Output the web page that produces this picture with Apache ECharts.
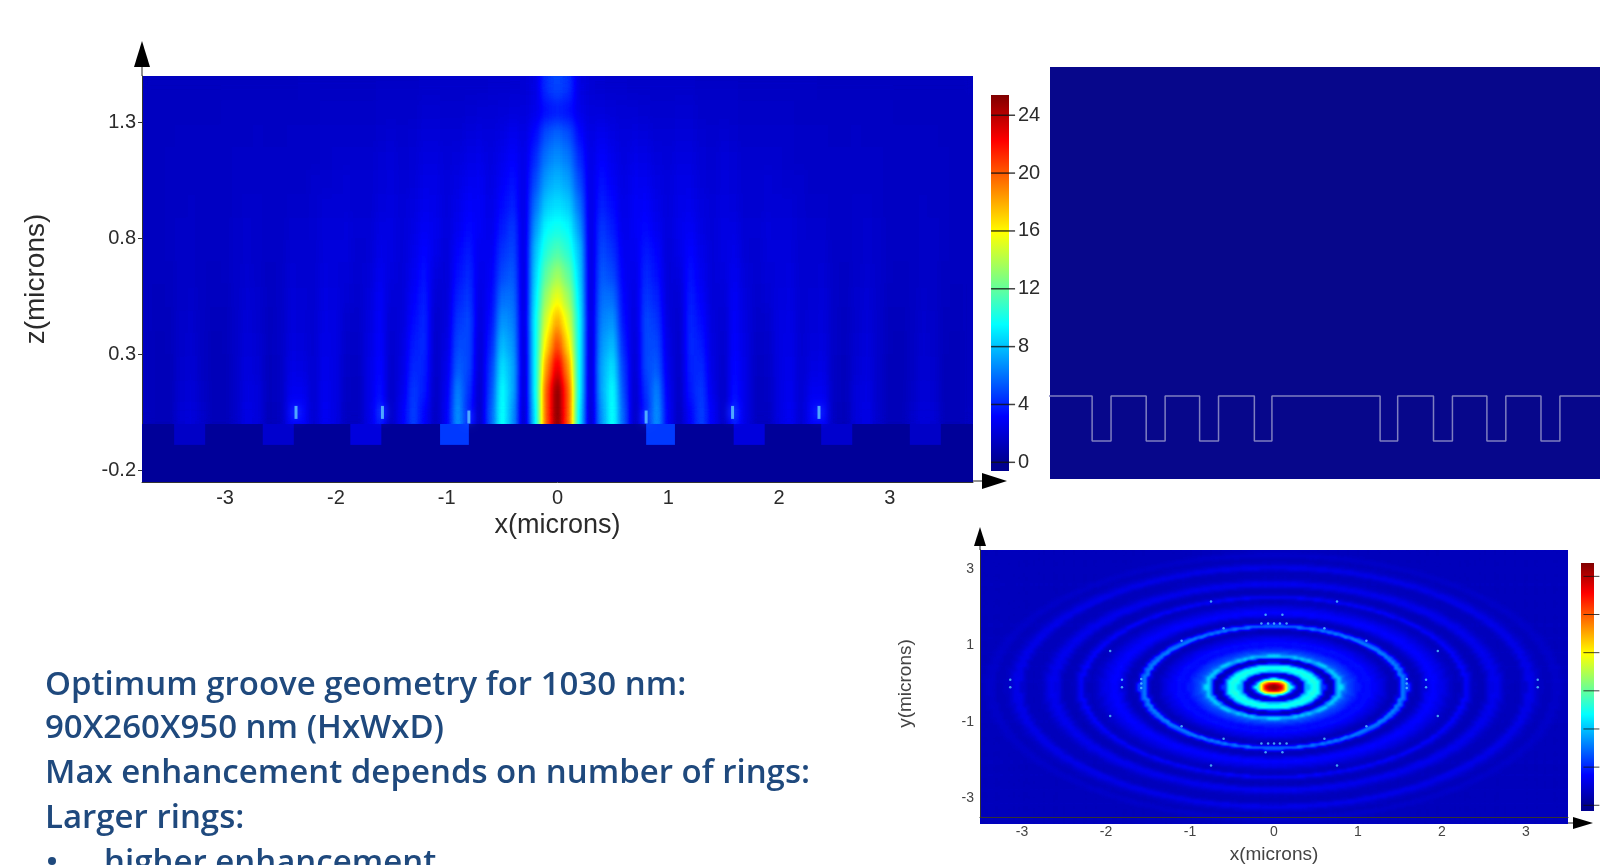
<!DOCTYPE html>
<html><head><meta charset="utf-8">
<style>
html,body{margin:0;padding:0;background:#fff;overflow:hidden}
#page{position:relative;width:1600px;height:865px;overflow:hidden}
.heat,#main{position:absolute}
#heatBeam{left:142px;top:76px;width:831px;height:349px;filter:url(#jetBeam)}
#heatRings{left:980px;top:550px;width:588px;height:274px;filter:url(#jetRings)}
#main{left:0;top:0;width:1600px;height:865px}
</style>
<script src="https://cdn.jsdelivr.net/npm/echarts@6/dist/echarts.min.js"></script>
</head><body>
<div id="page">
<svg width="0" height="0" style="position:absolute">
<filter id="jetBeam" x="0" y="0" width="1" height="1" color-interpolation-filters="sRGB"><feGaussianBlur stdDeviation="3.5 8"/><feComponentTransfer><feFuncR type="table" class="r"/><feFuncG type="table" class="g"/><feFuncB type="table" class="b"/><feFuncA type="table" tableValues="1 1"/></feComponentTransfer></filter>
<filter id="jetRings" x="0" y="0" width="1" height="1" color-interpolation-filters="sRGB"><feGaussianBlur stdDeviation="1.8 1"/><feComponentTransfer><feFuncR type="table" class="r"/><feFuncG type="table" class="g"/><feFuncB type="table" class="b"/><feFuncA type="table" tableValues="1 1"/></feComponentTransfer></filter>
</svg>
<div id="heatBeam" class="heat"></div>
<div id="heatRings" class="heat"></div>
<div id="main"></div>
</div>
<script>
// --- colour scale (jet, 0..25.4) ---
const jetR = [0,0,0,0,.5,1,1,1,.5];
const jetG = [0,0,.5,1,1,1,.5,0,0];
const jetB = [.56,1,1,1,.5,0,0,0,0];
const scaleMax = 25.4;

// --- tick labels ---
const beamXTicks = [-3,-2,-1,0,1,2,3];
const beamZTicks = [-0.2,0.3,0.8,1.3];
const barTicks = [0,4,8,12,16,20,24];
const ringXTicks = [-3,-2,-1,0,1,2,3];
const ringYTicks = [-3,-1,1,3];

// --- cross-section field: enhancement read at x = 0, 0.1 ... 3.7 microns (right half, picture is mirror-symmetric) ---
const beamColumnsX = [0,.1,.2,.3,.4,.5,.6,.7,.8,.9,1,1.1,1.2,1.3,1.4,1.5,1.6,1.7,1.8,1.9,2,2.1,2.2,2.3,2.4,2.5,2.6,2.7,2.8,2.9,3,3.1,3.2,3.3,3.4,3.5,3.6,3.7];
const z005 = [26,20,9,1.5,7,10,5.5,1.5,4,7,3,1.4,3.2,4.8,3,1.6,4,2.5,1.4,1.4,2.4,2.9,1.9,3.2,3.2,1.4,1.2,2.2,2.5,1.7,1.2,1.2,1.7,2.2,2,1.2,1.2,1.4];
const z015 = [25.5,20,9.5,1.6,7.5,9.8,5,1.6,4.5,6.5,2.8,1.5,3.8,4.6,2.6,1.6,3.6,2.5,1.4,1.5,2.4,2.8,1.9,2.8,2.8,1.5,1.3,2.2,2.4,1.7,1.2,1.2,1.6,2.1,1.9,1.2,1.2,1.4];
const z025 = [23,18.5,9.5,1.7,7.5,9,4.6,1.8,5,5.5,2.6,1.6,4,4.2,2.4,1.7,3.4,2.5,1.5,1.6,2.4,2.7,1.9,2.4,2.5,1.5,1.3,2,2.3,1.7,1.2,1.2,1.5,2,1.8,1.2,1.2,1.4];
const z035 = [20.5,16.5,9.5,1.8,7,8,4,2,5,5,2.4,1.7,4.2,3.8,2.3,1.8,3.2,2.4,1.6,1.7,2.4,2.6,1.9,2.2,2.3,1.6,1.4,1.9,2.2,1.7,1.3,1.2,1.5,1.9,1.7,1.3,1.2,1.4];
const z045 = [18,15,9.5,2,6.5,7,3.5,2.2,5,4.5,2.2,1.8,4.1,3.4,2.2,1.9,3.1,2.3,1.7,1.8,2.4,2.5,1.9,2.1,2.2,1.6,1.4,1.8,2.1,1.7,1.3,1.3,1.5,1.8,1.7,1.3,1.3,1.4];
const z055 = [15.5,13.5,9,2,6,6,3.2,2.4,4.6,4,2.1,2,3.9,3.1,2.1,2.1,3,2.2,1.8,2,2.3,2.4,1.9,2,2.1,1.6,1.5,1.8,2,1.7,1.4,1.4,1.5,1.7,1.6,1.4,1.3,1.4];
const z065 = [13.5,12,8.5,2.1,5.5,5,3,2.6,4.2,3.5,2.1,2.3,3.6,2.8,2.1,2.3,2.8,2.1,1.9,2.1,2.2,2.3,1.9,1.9,2,1.6,1.5,1.7,1.9,1.7,1.5,1.4,1.5,1.6,1.6,1.4,1.4,1.4];
const z075 = [11.5,10.5,8,2.2,5,4.4,2.8,2.8,3.8,3.2,2.1,2.6,3.3,2.6,2.1,2.4,2.6,2,1.9,2.2,2.2,2.2,1.9,1.9,1.9,1.6,1.6,1.7,1.8,1.7,1.5,1.5,1.5,1.6,1.6,1.5,1.4,1.4];
const z085 = [10,9.5,7,2.3,4.6,3.8,2.6,3,3.4,2.8,2.2,2.7,3,2.4,2.1,2.4,2.4,2,2,2.2,2.1,2.1,1.9,1.8,1.8,1.6,1.6,1.7,1.8,1.7,1.5,1.5,1.5,1.6,1.6,1.5,1.4,1.4];
const z095 = [8.8,8.3,6,2.4,4,3.4,2.5,3,3.1,2.6,2.2,2.6,2.7,2.3,2.1,2.3,2.2,1.9,1.9,2,2,2,1.8,1.7,1.7,1.6,1.6,1.7,1.7,1.6,1.5,1.5,1.5,1.6,1.5,1.5,1.4,1.4];
const z105 = [7.8,7.2,5,2.5,3.6,3,2.4,2.9,2.8,2.4,2.2,2.5,2.5,2.1,2,2.2,2.1,1.9,1.9,2,1.9,1.8,1.8,1.6,1.6,1.6,1.6,1.6,1.6,1.6,1.5,1.5,1.5,1.5,1.5,1.5,1.4,1.4];
const z115 = [6.8,6.2,4.2,2.5,3.2,2.7,2.3,2.6,2.5,2.2,2.1,2.3,2.3,2,1.9,2.1,2,1.8,1.8,1.8,1.8,1.7,1.6,1.6,1.6,1.6,1.6,1.6,1.6,1.6,1.5,1.5,1.5,1.5,1.5,1.5,1.4,1.4];
const z125 = [5.8,5.2,3.4,2.4,2.8,2.4,2.2,2.3,2.2,2,2,2.1,2.1,1.9,1.8,1.9,1.8,1.7,1.7,1.7,1.7,1.7,1.6,1.6,1.6,1.5,1.5,1.6,1.5,1.5,1.5,1.5,1.5,1.5,1.5,1.4,1.4,1.4];
const z135 = [3.8,3.5,2.6,2.2,2.2,2.1,2,2,1.9,1.8,1.8,1.9,1.9,1.7,1.7,1.7,1.7,1.6,1.6,1.6,1.6,1.6,1.5,1.5,1.5,1.5,1.5,1.5,1.5,1.5,1.5,1.4,1.4,1.4,1.4,1.4,1.4,1.4];
const z145 = [5,4.4,2.4,2,1.9,1.8,1.8,1.7,1.7,1.7,1.7,1.7,1.7,1.6,1.6,1.6,1.6,1.5,1.5,1.5,1.5,1.5,1.5,1.5,1.4,1.4,1.4,1.4,1.4,1.4,1.4,1.4,1.4,1.4,1.4,1.4,1.4,1.4];
const beamRows = [z005,z015,z025,z035,z045,z055,z065,z075,z085,z095,z105,z115,z125,z135,z145];

// --- grooves: edges in microns either side of centre, depth, and field inside each groove ---
const grooveInner = [0.8,1.59,2.38,3.18];
const grooveOuter = [1.06,1.87,2.66,3.46];
const grooveField = [4.6,2.2,1.8,1.6];
const grooveDepth = -0.09;
const sparkX = [0.8,1.58,2.36];
const sparkZ = [0.03,0.05,0.05];

// --- plan view: enhancement read along a radius, r = 0, 0.05, 0.10 ... microns ---
const ringProfile = [30,27,23,17,11,4.5,1.2,2,8,10,10.5,9.5,4.5,1.3,1.2,6,9,6,5,4.6,4,3.4,3.5,3.6,3.2,2.8,2.4,1.9,1.4,1.3,2.4,7,5,1.6,1.3,1.5,2.2,3,3.4,3.2,2.8,2.4,1.9,1.6,1.4,1.8,3.4,2.4,1.5,1.3,1.3,1.8,2.6,2.9,2.5,1.9,1.5,1.4,1.4,1.4,1.9,2.7,2.6,2,1.6,1.4,1.4,1.7,1.8,1.6,1.4,1.4,1.4,1.4,1.4,1.4,1.4,1.4,1.4,1.4,1.4,1.4,1.4,1.4,1.4,1.4,1.4,1.4,1.4,1.4,1.4,1.4,1.4,1.4,1.4,1.4,1.4,1.4,1.4,1.4];
const ringCellStep = 0.04;
const speckX = [0.1,-0.1,0.1,-0.1,1.81,1.81,-1.81,-1.81,3.14,3.14,-3.14,-3.14,-0.15,-0.07,0,0.07,0.15,-0.15,-0.07,0,0.07,0.15,1.58,1.58,1.58,-1.58,-1.58,-1.58,1.1,-1.1,1.1,-1.1,0.6,-0.6,0.6,-0.6,1.95,-1.95,1.95,-1.95,0.75,-0.75,0.75,-0.75];
const speckY = [1.8,1.8,-1.8,-1.8,0.1,-0.1,0.1,-0.1,0.1,-0.1,0.1,-0.1,1.57,1.57,1.57,1.57,1.57,-1.57,-1.57,-1.57,-1.57,-1.57,0,0.12,-0.12,0,0.12,-0.12,1.12,1.12,-1.12,-1.12,1.45,1.45,-1.45,-1.45,0.85,0.85,-0.85,-0.85,2.15,2.15,-2.15,-2.15];

// --- slide text ---
const noteLines = ["Optimum groove geometry for 1030 nm:","90X260X950 nm (HxWxD)","Max enhancement depends on number of rings:","Larger rings:","higher enhancement"];
const noteTop = [686,729,774,819,864];

function jetAt(v){
  const f=Math.max(0,Math.min(1,v/scaleMax))*8, i=Math.min(7,Math.floor(f)), t=f-i;
  const c=a=>Math.round((a[i]+(a[i+1]-a[i])*t)*255);
  return 'rgb('+c(jetR)+','+c(jetG)+','+c(jetB)+')';
}
document.querySelectorAll('.r').forEach(e=>e.setAttribute('tableValues',jetR.join(' ')));
document.querySelectorAll('.g').forEach(e=>e.setAttribute('tableValues',jetG.join(' ')));
document.querySelectorAll('.b').forEach(e=>e.setAttribute('tableValues',jetB.join(' ')));
const barLevels=[25.4,22.225,15.875,9.525,3.175,0];
function heatOption(xs,ys,cells){
  return {animation:false,backgroundColor:'#000',
    grid:{left:0,right:0,top:0,bottom:0},
    xAxis:{type:'category',data:xs,show:false},
    yAxis:{type:'category',data:ys,show:false},
    visualMap:{show:false,min:0,max:scaleMax,inRange:{color:['#000000','#ffffff']}},
    series:[{type:'heatmap',data:cells,progressive:0,emphasis:{disabled:true},itemStyle:{borderWidth:0}}]};
}
const beamXs=[...beamColumnsX.slice(1).reverse().map(v=>-v),...beamColumnsX];
const beamCells=[];
beamRows.forEach((row,j)=>{beamXs.forEach((x,i)=>{beamCells.push([i,j,row[Math.round(Math.abs(x)*10)]]);});});
echarts.init(document.getElementById('heatBeam')).setOption(heatOption(beamXs.map(String),beamRows.map((r,i)=>String(i)),beamCells));
const ringXs=[],ringCells=[];
const ringN=Math.round(3.5/ringCellStep);
for(let i=-ringN;i<ringN;i++)ringXs.push((i+.5)*ringCellStep);
ringXs.forEach((x,i)=>ringXs.forEach((y,j)=>{
  const k=Math.min(ringProfile.length-1,Math.round(Math.hypot(x,y)/0.05));
  ringCells.push([i,j,ringProfile[k]]);
}));
echarts.init(document.getElementById('heatRings')).setOption(heatOption(ringXs.map(String),ringXs.map(String),ringCells));

const labelDark='#2b2b2b', sans='"Liberation Sans",Arial,sans-serif';
const strip=[[-3.75,3.75,-0.25,0,0.3]];
grooveInner.forEach((a,i)=>{
  strip.push([a,grooveOuter[i],grooveDepth,0,grooveField[i]]);
  strip.push([-grooveOuter[i],-a,grooveDepth,0,grooveField[i]]);
});
const profX=[-4.1],profZ=[0];
const edges=[];
for(let i=grooveInner.length-1;i>=0;i--)edges.push([-grooveOuter[i],-grooveInner[i]]);
for(let i=0;i<grooveInner.length;i++)edges.push([grooveInner[i],grooveOuter[i]]);
edges.forEach(([a,b])=>{profX.push(a,a,b,b);profZ.push(0,grooveDepth,grooveDepth,0);});
profX.push(4.1);profZ.push(0);
const sparks=[];
sparkX.forEach((x,i)=>{sparks.push([x,sparkZ[i]]);sparks.push([-x,sparkZ[i]]);});
const specks=speckX.map((x,i)=>[x,speckY[i]]);

function rectItem(params,api){
  const a=api.coord([api.value(0),api.value(2)]),b=api.coord([api.value(1),api.value(3)]);
  const fill=params.seriesName==='bar'
    ? new echarts.graphic.LinearGradient(0,0,0,1,barLevels.map(v=>({offset:(25.4-v)/26,color:jetAt(v)})).concat([{offset:1,color:jetAt(0)}]))
    : jetAt(api.value(4));
  const shape=echarts.graphic.clipRectByRect({x:a[0],y:b[1],width:b[0]-a[0],height:a[1]-b[1]},params.coordSys);
  return {type:'rect',shape,style:{fill}};
}
function ax(extra){return Object.assign({axisLine:{show:true,onZero:false,lineStyle:{color:'#333',width:1}},splitLine:{show:false},axisTick:{show:true,lineStyle:{color:'#333'}},scale:true},extra);}
function triangle(pts){return {type:'polygon',shape:{points:pts},style:{fill:'#000'},z:20};}
function seg(x1,y1,x2,y2){return {type:'line',shape:{x1,y1,x2,y2},style:{stroke:'#222',lineWidth:1},z:20};}
const graphics=[
  seg(142,66,142,76),triangle([[142,41],[134,67],[150,67]]),
  seg(973,481,985,481),triangle([[1007,481],[982,473],[982,489]]),
  seg(980,545,980,550),triangle([[980,527],[974,546],[986,546]]),
  seg(1568,823,1576,823),triangle([[1593,823],[1573,817],[1573,829]]),
];
noteLines.forEach((t,i)=>{
  graphics.push({type:'text',x:i===4?104:45,y:noteTop[i],z:20,style:{text:t,fill:'#1f497d',font:'600 33px "Open Sans",sans-serif',textAlign:'left',textVerticalAlign:'middle'}});
});
graphics.push({type:'circle',shape:{cx:52,cy:861,r:4},style:{fill:'#1f497d'},z:20});

const main=echarts.init(document.getElementById('main'));
main.setOption({
  animation:false,backgroundColor:'transparent',
  grid:[
    {left:142,top:76,width:831,height:406,show:false},
    {left:1050,top:67,width:550,height:412,show:true,backgroundColor:'#07078b',borderWidth:0},
    {left:980,top:550,width:588,height:274,show:false},
    {left:991,top:95,width:18,height:376,show:false},
    {left:1581,top:563,width:13,height:248,show:false}
  ],
  xAxis:[
    ax({gridIndex:0,type:'value',min:-3.75,max:3.75,name:'x(microns)',nameLocation:'middle',nameGap:30,nameTextStyle:{fontFamily:sans,fontSize:27,color:labelDark},axisTick:{show:false,customValues:beamXTicks},axisLabel:{customValues:beamXTicks,fontFamily:sans,fontSize:20,color:labelDark,margin:6}}),
    {gridIndex:1,type:'value',min:-4.083,max:4.053,show:false},
    ax({gridIndex:2,type:'value',min:-3.5,max:3.5,name:'x(microns)',nameLocation:'middle',nameGap:28,nameTextStyle:{fontFamily:sans,fontSize:19,color:'#444'},axisTick:{show:false,customValues:ringXTicks},axisLabel:{customValues:ringXTicks,fontFamily:sans,fontSize:14,color:'#444',margin:8}}),
    {gridIndex:3,type:'value',min:0,max:1,show:false},
    {gridIndex:4,type:'value',min:0,max:1,show:false}
  ],
  yAxis:[
    ax({gridIndex:0,type:'value',min:-0.25,max:1.5,name:'z(microns)',nameLocation:'middle',nameGap:92,nameTextStyle:{fontFamily:sans,fontSize:28,color:labelDark},axisTick:{show:true,length:4,customValues:beamZTicks,lineStyle:{color:'#333'}},axisLabel:{customValues:beamZTicks,fontFamily:sans,fontSize:20,color:labelDark,margin:6}}),
    {gridIndex:1,type:'value',min:-0.166,max:0.658,show:false},
    ax({gridIndex:2,type:'value',min:-3.5,max:3.5,name:'y(microns)',nameLocation:'middle',nameGap:65,nameTextStyle:{fontFamily:sans,fontSize:19,color:'#444'},axisTick:{show:false,customValues:ringYTicks},axisLabel:{customValues:ringYTicks,fontFamily:sans,fontSize:14,color:'#444',margin:6}}),
    ax({gridIndex:3,type:'value',position:'right',min:-0.6,max:25.4,axisLine:{show:false,onZero:false},axisTick:{show:false,customValues:barTicks},axisLabel:{customValues:barTicks,fontFamily:sans,fontSize:20,color:labelDark,margin:9}}),
    ax({gridIndex:4,type:'value',position:'right',min:-0.6,max:25.4,axisLine:{show:false,onZero:false},axisTick:{show:false,customValues:barTicks},axisLabel:{show:false}})
  ],
  series:[
    {type:'custom',name:'substrate',xAxisIndex:0,yAxisIndex:0,renderItem:rectItem,encode:{x:[0,1],y:[2,3]},data:strip,silent:true},
    {type:'scatter',name:'sparks',xAxisIndex:0,yAxisIndex:0,data:sparks,symbol:'rect',symbolSize:[3,13],itemStyle:{color:'#5cc0ff',shadowBlur:8,shadowColor:'#2a80ff',opacity:.85},silent:true,z:5},
    {type:'line',name:'profile',xAxisIndex:1,yAxisIndex:1,data:profX.map((x,i)=>[x,profZ[i]]),symbol:'none',lineStyle:{color:'#7f7fc0',width:1.5},silent:true},
    {type:'scatter',name:'specks',xAxisIndex:2,yAxisIndex:2,data:specks,symbolSize:2.5,itemStyle:{color:'#55c8ff'},silent:true},
    {type:'custom',name:'bar',xAxisIndex:3,yAxisIndex:3,renderItem:rectItem,encode:{x:[0,1],y:[2,3]},data:[[0,1,-0.6,25.4]],silent:true,z:1},
    {type:'custom',name:'bar',xAxisIndex:4,yAxisIndex:4,renderItem:rectItem,encode:{x:[0,1],y:[2,3]},data:[[0,1,-0.6,25.4]],silent:true,z:1},
    {type:'scatter',name:'barTicks1',xAxisIndex:3,yAxisIndex:3,data:barTicks.map(v=>[0.67,v]),symbol:'rect',symbolSize:[24,1.5],itemStyle:{color:'#111'},clip:false,silent:true,z:3},
    {type:'scatter',name:'barTicks3',xAxisIndex:4,yAxisIndex:4,data:barTicks.map(v=>[0.8,v]),symbol:'rect',symbolSize:[16,1],itemStyle:{color:'#111'},clip:false,silent:true,z:3}
  ],
  graphic:graphics
});
</script>
</body></html>
